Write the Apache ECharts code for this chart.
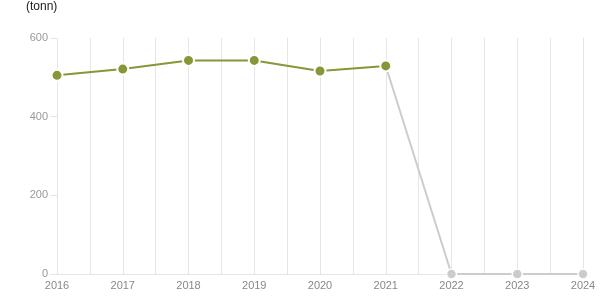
<!DOCTYPE html>
<html><head><meta charset="utf-8">
<script src="https://cdn.jsdelivr.net/npm/echarts@6/dist/echarts.min.js"></script>
<style>html,body{margin:0;padding:0;background:#fff}#c{width:615px;height:305px}</style>
</head><body><div id="c"></div>
<script>
var years = [2016, 2017, 2018, 2019, 2020, 2021, 2022, 2023, 2024];
var actualYears = [2016, 2017, 2018, 2019, 2020, 2021];
var actualValues = [505, 521, 543, 543, 516, 529];
var projYears = [2021, 2022, 2023, 2024];
var projValues = [529, 0, 0, 0];
var yTicks = [0, 200, 400, 600];
var unitLabel = '(tonn)';

function pairs(xs, ys){ return xs.map(function(x,i){ return [x, ys[i]]; }); }

var chart = echarts.init(document.getElementById('c'));
chart.setOption({
  animation: false,
  title: { text: unitLabel, left: 26, top: 1, padding: 0, textStyle: { fontFamily: 'Arial, Liberation Sans', fontSize: 12, fontWeight: 'normal', color: '#222' } },
  grid: { left: 57, right: 32, top: 38, bottom: 31 },
  xAxis: {
    type: 'value', min: years[0], max: years[years.length-1], interval: 1,
    axisLine: { show: true, lineStyle: { color: '#e6e6e6' } },
    axisTick: { show: false },
    minorTick: { show: false, splitNumber: 2 },
    splitLine: { show: true, lineStyle: { color: '#e6e6e6' } },
    minorSplitLine: { show: true, lineStyle: { color: '#e6e6e6' } },
    axisLabel: { color: '#888', fontSize: 11, fontFamily: 'Arial, Liberation Sans', margin: 6, formatter: function(v){ return String(v); } }
  },
  yAxis: {
    type: 'value', min: yTicks[0], max: yTicks[yTicks.length-1], interval: 200,
    axisLine: { show: false },
    axisTick: { show: true, length: 7, lineStyle: { color: '#e6e6e6' } },
    splitLine: { show: false },
    axisLabel: { color: '#999', fontSize: 11, fontFamily: 'Arial, Liberation Sans', margin: 9 }
  },
  series: [
    {
      type: 'line', data: pairs(projYears, projValues), z: 2,
      symbol: 'circle', symbolSize: 10, showAllSymbol: true,
      lineStyle: { color: '#cccccc', width: 2 },
      itemStyle: { color: '#cccccc', borderColor: '#fff', borderWidth: 1.5 }
    },
    {
      type: 'line', data: pairs(actualYears, actualValues), z: 3,
      symbol: 'circle', symbolSize: 11,
      lineStyle: { color: '#879637', width: 2 },
      itemStyle: { color: '#879637', borderColor: '#fff', borderWidth: 2 }
    }
  ]
});
</script></body></html>
